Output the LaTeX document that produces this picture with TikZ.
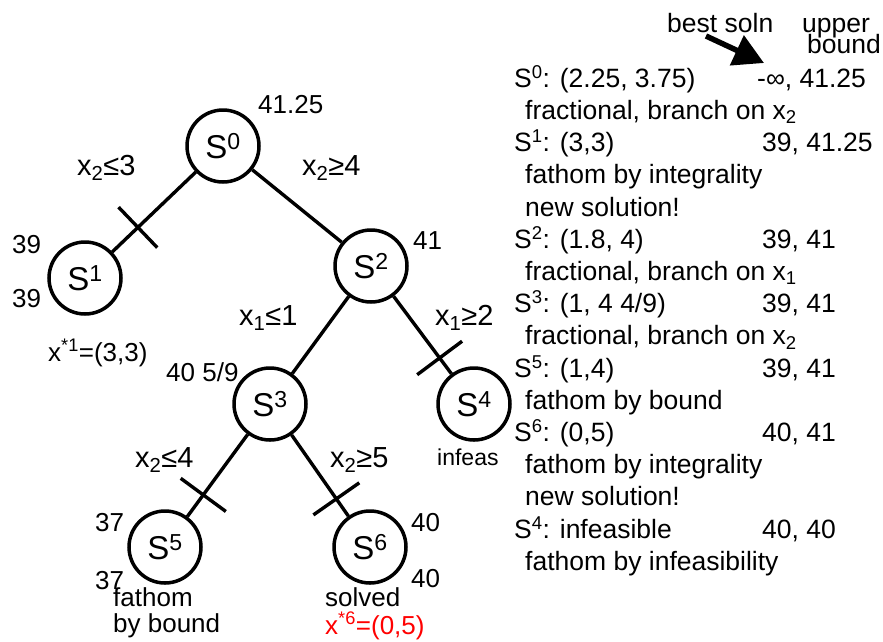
\documentclass[tikz,border=0pt]{standalone}
\usepackage{fontspec}
\setmainfont{Liberation Sans}
\usetikzlibrary{decorations.markings,arrows.meta}
\definecolor{solred}{RGB}{255,0,0}
\tikzset{
  state/.style={circle, draw, line width=3.5pt, minimum size=72pt, inner sep=0pt,
    font=\fontsize{33}{33}\selectfont},
  branch/.style={line width=3.4pt},
  % short bar across a branch, #1 = distance from the parent
  cut/.style={postaction={decorate}, decoration={markings,
    mark=at position #1 with {\draw[line width=3.4pt] (0,-28pt) -- (0,28pt);}}},
  lbl/.style={anchor=base west, inner sep=0pt, font=\fontsize{26}{26}\selectfont},
  cond/.style={lbl, font=\fontsize{29}{29}\selectfont},
  row/.style={lbl, font=\fontsize{26.5}{26.5}\selectfont},
  bigarrow/.style={line width=5.5pt, -{Triangle[length=30pt,width=32pt]}},
}
\begin{document}
\begin{tikzpicture}[x=1pt,y=-1pt]
\useasboundingbox (0,0) rectangle (883,641);

% branch-and-bound tree
\node[state] (s0) at (223,146) {S\textsuperscript{0}};
\node[state] (s1) at (85,278)  {S\textsuperscript{1}};
\node[state] (s2) at (371,266) {S\textsuperscript{2}};
\node[state] (s3) at (270,404) {S\textsuperscript{3}};
\node[state] (s4) at (474,404) {S\textsuperscript{4}};
\node[state] (s5) at (165,547) {S\textsuperscript{5}};
\node[state] (s6) at (370,547) {S\textsuperscript{6}};

\draw[branch, cut=80pt] (s0) -- (s1);
\draw[branch] (s0) -- (s2);
\draw[branch] (s2) -- (s3);
\draw[branch, cut=77pt] (s2) -- (s4);
\draw[branch, cut=75pt] (s3) -- (s5);
\draw[branch, cut=78pt] (s3) -- (s6);

% branching constraints
\node[cond] (c01) at (77,175)  {x\textsubscript{2}≤3};
\node[cond] (c02) at (302,175) {x\textsubscript{2}≥4};
\node[cond] (c23) at (239,325) {x\textsubscript{1}≤1};
\node[cond] (c24) at (435,325) {x\textsubscript{1}≥2};
\node[cond] (c35) at (135,467) {x\textsubscript{2}≤4};
\node[cond] (c36) at (330,467) {x\textsubscript{2}≥5};

% bounds and notes beside the nodes
\node[lbl] (b0)  at (258,113) {41.25};
\node[lbl] (b1a) at (12,253)  {39};
\node[lbl] (b1b) at (12,307)  {39};
\node[lbl] (x1)  at (48,361)  {x\textsuperscript{*1}=(3,3)};
\node[lbl] (b2)  at (413,249) {41};
\node[lbl] (b3)  at (166,381) {40 5/9};
\node[lbl, font=\fontsize{23}{23}\selectfont] (n4) at (437,465) {infeas};
\node[lbl] (b5a) at (95,531)  {37};
\node[lbl] (b5b) at (95,589)  {37};
\node[lbl] (n5a) at (113,606) {fathom};
\node[lbl] (n5b) at (113,632) {by bound};
\node[lbl] (b6a) at (411,531) {40};
\node[lbl] (b6b) at (411,587) {40};
\node[lbl] (n6)  at (325,606) {solved};
\node[lbl, text=solred] (x6) at (325,634) {x\textsuperscript{*6}=(0,5)};

% column headings
\node[row] (hbest) at (667,32) {best soln};
\node[row] (hup1)  at (802,32) {upper};
\node[row] (hup2)  at (807,53) {bound};
\coordinate (arrfrom) at (706,36);
\coordinate (arrto)   at (764,63);
\draw[bigarrow] (arrfrom) -- (arrto);

% log of the search
\node[row] (r0)  at (514,87.3)  {S\textsuperscript{0}: (2.25, 3.75)};
\node[row] (v0)  at (757,87.3)  {-∞, 41.25};
\node[row] (r1)  at (525,119.5) {fractional, branch on x\textsubscript{2}};
\node[row] (r2)  at (514,151.7) {S\textsuperscript{1}: (3,3)};
\node[row] (v2)  at (762,151.7) {39, 41.25};
\node[row] (r3)  at (525,183.9) {fathom by integrality};
\node[row] (r4)  at (525,216.1) {new solution!};
\node[row] (r5)  at (514,248.3) {S\textsuperscript{2}: (1.8, 4)};
\node[row] (v5)  at (762,248.3) {39, 41};
\node[row] (r6)  at (525,280.5) {fractional, branch on x\textsubscript{1}};
\node[row] (r7)  at (514,312.7) {S\textsuperscript{3}: (1, 4 4/9)};
\node[row] (v7)  at (762,312.7) {39, 41};
\node[row] (r8)  at (525,344.9) {fractional, branch on x\textsubscript{2}};
\node[row] (r9)  at (514,377.1) {S\textsuperscript{5}: (1,4)};
\node[row] (v9)  at (762,377.1) {39, 41};
\node[row] (r10) at (525,409.3) {fathom by bound};
\node[row] (r11) at (514,441.5) {S\textsuperscript{6}: (0,5)};
\node[row] (v11) at (762,441.5) {40, 41};
\node[row] (r12) at (525,473.7) {fathom by integrality};
\node[row] (r13) at (525,505.9) {new solution!};
\node[row] (r14) at (514,538.1) {S\textsuperscript{4}: infeasible};
\node[row] (v14) at (762,538.1) {40, 40};
\node[row] (r15) at (525,570.3) {fathom by infeasibility};
\end{tikzpicture}
\end{document}
